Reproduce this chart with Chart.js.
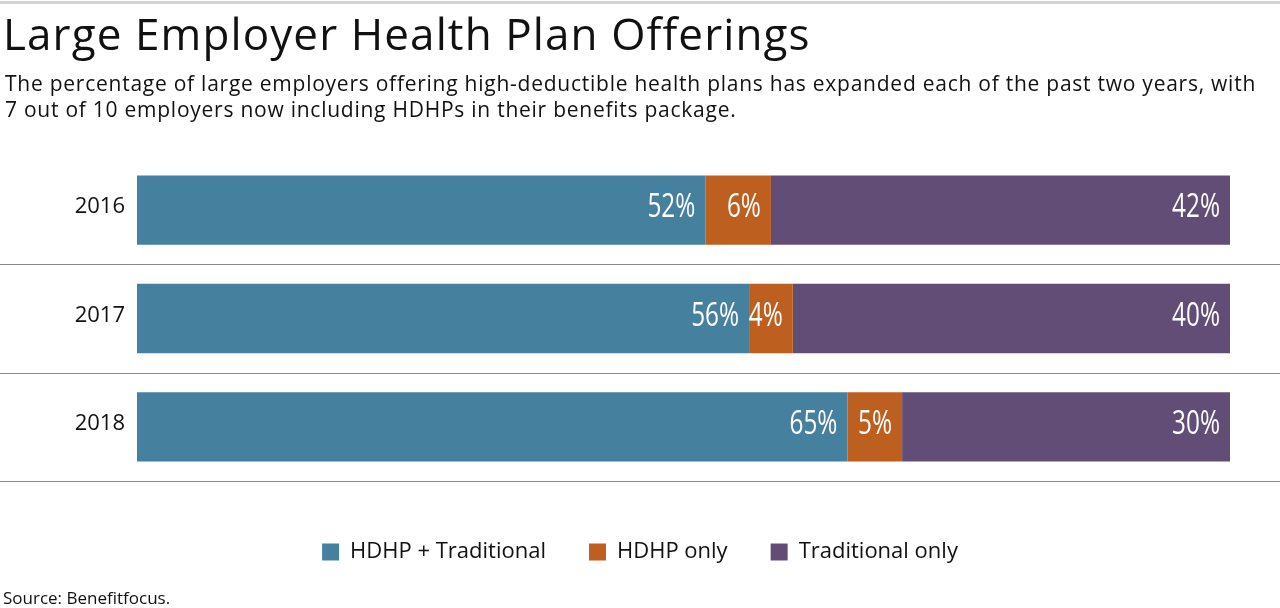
<!DOCTYPE html>
<html>
<head>
<meta charset="utf-8">
<title>Large Employer Health Plan Offerings</title>
<script src="https://cdn.jsdelivr.net/npm/chart.js@4"></script>
<style>
	html, body { margin: 0; padding: 0; background: #fff; }
	body { width: 1280px; height: 608px; position: relative; overflow: hidden; font-family: "Open Sans", sans-serif; color: #111; }
	.topbar { position: absolute; left: 0; top: 1px; width: 1280px; height: 3px; background: #d4d4d4; }
	.chart-box { position: absolute; left: 0; top: 0; width: 1280px; height: 608px; }
	h1 { position: absolute; left: 3px; top: 5px; margin: 0; font-weight: 400; font-size: 44px; line-height: 56px; letter-spacing: 1.1px; white-space: nowrap; }
	.sub { position: absolute; left: 5px; top: 70px; margin: 0; font-size: 21px; line-height: 26px; letter-spacing: 0.75px; white-space: nowrap; }
	.source { position: absolute; left: 3px; top: 587px; font-size: 17px; line-height: 22px; }
</style>
</head>
<body>
<div class="chart-box"><canvas id="myChart" width="1280" height="608"></canvas></div>
<div class="topbar"></div>
<h1>Large Employer Health Plan Offerings</h1>
<p class="sub">The percentage of large employers offering high-deductible health plans has expanded each of the past two years, with<br>7 out of 10 employers now including HDHPs in their benefits package.</p>
<div class="source">Source: Benefitfocus.</div>

<script>
/*
Large employer health plan offerings, share of employers by plan mix
*/

const years = ['2016', '2017', '2018'];
const hdhpTraditional = [52, 56, 65];
const hdhpOnly = [6, 4, 5];
const traditionalOnly = [42, 40, 30];
const seriesNames = ['HDHP + Traditional', 'HDHP only', 'Traditional only'];
const seriesColors = ['#46809f', '#bd5f1e', '#624d77'];

const bodyFont = '"Open Sans", sans-serif';

// white percentage labels, right aligned inside each segment (narrowed to look condensed)
const valueLabels = {
	id: 'valueLabels',
	afterDatasetsDraw(chart) {
		const { ctx } = chart;
		chart.data.datasets.forEach((ds, i) => {
			chart.getDatasetMeta(i).data.forEach((bar, j) => {
				ctx.save();
				ctx.fillStyle = '#ffffff';
				ctx.font = '32px ' + bodyFont;
				ctx.textAlign = 'right';
				ctx.textBaseline = 'alphabetic';
				ctx.translate(bar.x - 10, bar.y + 7);
				ctx.scale(0.76, 1);
				ctx.fillText(ds.data[j] + '%', 0, 0);
				ctx.restore();
			});
		});
	}
};

// gray rules under each row, full width
const rowLines = {
	id: 'rowLines',
	afterDraw(chart) {
		const { ctx } = chart;
		const yScale = chart.scales.y;
		const half = (yScale.getPixelForTick(1) - yScale.getPixelForTick(0)) / 2;
		ctx.save();
		ctx.strokeStyle = '#8a8a8a';
		ctx.lineWidth = 1;
		for (let i = 0; i < years.length; i++) {
			const y = Math.round(yScale.getPixelForTick(i) + half) + 0.5;
			ctx.beginPath();
			ctx.moveTo(0, y);
			ctx.lineTo(chart.width, y);
			ctx.stroke();
		}
		ctx.restore();
	}
};

const ctx = document.getElementById('myChart').getContext('2d');

const plotData = {
	labels: years,
	datasets: [hdhpTraditional, hdhpOnly, traditionalOnly].map((values, i) => ({
		label: seriesNames[i],
		data: values,
		backgroundColor: seriesColors[i],
		borderWidth: 0,
		barPercentage: 1,
		categoryPercentage: 0.64
	}))
};

const config = {
	type: 'bar',
	data: plotData,
	options: {
		indexAxis: 'y',
		responsive: false,
		animation: false,
		devicePixelRatio: 1,
		layout: {
			padding: { top: 156, bottom: 35, left: 0, right: 0 }
		},
		scales: {
			x: {
				type: 'linear',
				stacked: true,
				min: 0,
				max: 100,
				ticks: { display: false },
				grid: { display: false },
				border: { display: false },
				afterFit: (s) => { s.height = 17; }
			},
			y: {
				stacked: true,
				position: 'left',
				grid: { display: false, drawTicks: false },
				border: { display: false },
				ticks: { padding: 12, labelOffset: -3, color: '#111', font: { family: bodyFont, size: 22 } },
				afterFit: (s) => { s.width = 137; }
			},
			y2: {
				type: 'category',
				position: 'right',
				display: true,
				grid: { display: false, drawTicks: false },
				border: { display: false },
				ticks: { display: false },
				afterFit: (s) => { s.width = 50; }
			}
		},
		plugins: {
			legend: {
				position: 'bottom',
				align: 'center',
				labels: {
					boxWidth: 17,
					boxHeight: 17,
					padding: 43,
					color: '#111',
					font: { family: bodyFont, size: 22 }
				}
			},
			tooltip: { enabled: false }
		}
	},
	plugins: [valueLabels, rowLines]
};

const myChart = new Chart(ctx, config);
</script>
</body>
</html>
